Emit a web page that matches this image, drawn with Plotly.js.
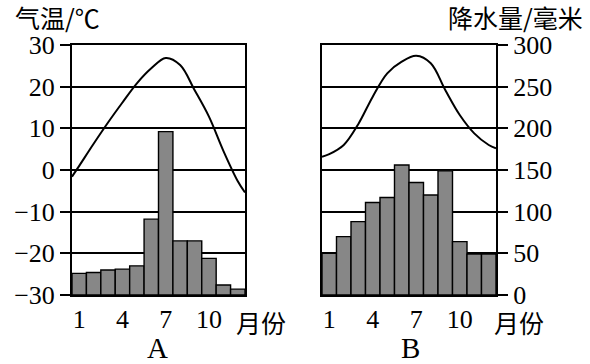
<!DOCTYPE html>
<html>
<head>
<meta charset="utf-8">
<script src="https://cdn.plot.ly/plotly-3.0.1.min.js"></script>
<style>html,body{margin:0;padding:0;background:#fff;}#chart{width:590px;height:364px;}</style>
</head>
<body>
<div id="chart"></div>
<script>
// Data
var months = [1,2,3,4,5,6,7,8,9,10,11,12];
var monthTicks = [1,4,7,10];
// temperature curve: read at the left plot edge, each month centre, and the right plot edge
var curveX = [0.5,1,2,3,4,5,6,7,8,9,10,11,12,12.5];
var tempA = [-1.6, 1.0, 6.3, 11.4, 16.2, 20.8, 24.4, 26.9, 25.2, 19.2, 12.8, 4.6, -2.7, -5.4];
var precA = [26, 27, 30, 31, 35, 91, 196, 65, 65, 44, 12, 7];
var tempB = [3.2, 3.8, 6.0, 11.0, 17.6, 23.2, 26.0, 27.4, 25.6, 19.2, 13.2, 8.8, 6.0, 5.2];
var precB = [50, 70, 88, 111, 117, 156, 135, 120, 149, 64, 49, 49];
var tempTicks = [-30,-20,-10,0,10,20,30];
var precTicks = [0,50,100,150,200,250,300];

var W = 590, H = 364;
function px(x){ return x / W; }
function py(y){ return 1 - y / H; }

var numFont = {family: 'Liberation Serif, serif', size: 26, color: '#000'};
var cjkFont = {family: 'Noto Sans CJK SC', size: 25, color: '#000'};

var barStyle = {color: '#878787', line: {color: '#000', width: 1.4}};
var lineStyle = {color: '#000', width: 2, shape: 'spline', smoothing: 1};

var traces = [
  {type: 'bar', x: months, y: precA, xaxis: 'x', yaxis: 'y2', marker: barStyle, hoverinfo: 'none'},
  {type: 'scatter', mode: 'lines', x: curveX, y: tempA, xaxis: 'x', yaxis: 'y', line: lineStyle, hoverinfo: 'none', cliponaxis: true},
  {type: 'bar', x: months, y: precB, xaxis: 'x2', yaxis: 'y4', marker: barStyle, hoverinfo: 'none'},
  {type: 'scatter', mode: 'lines', x: curveX, y: tempB, xaxis: 'x2', yaxis: 'y3', line: lineStyle, hoverinfo: 'none', cliponaxis: true}
];

var yDom = [py(295), py(45)];
var xAxisCommon = {
  range: [0.5, 12.5], tickmode: 'array', tickvals: monthTicks, ticktext: monthTicks.map(String),
  showline: true, mirror: true, linecolor: '#000', linewidth: 2,
  showgrid: false, zeroline: false, ticks: '', tickfont: numFont, fixedrange: true
};
var tempAxisCommon = {
  range: [-30, 30], tickmode: 'array', tickvals: tempTicks,
  showline: true, mirror: true, linecolor: '#000', linewidth: 2,
  showgrid: true, gridcolor: '#000', gridwidth: 1.8, zeroline: false,
  tickfont: numFont, fixedrange: true, domain: yDom
};

var layout = {
  width: W, height: H,
  margin: {l: 0, r: 0, t: 0, b: 0},
  paper_bgcolor: '#fff', plot_bgcolor: 'rgba(0,0,0,0)',
  showlegend: false, bargap: 0,
  xaxis: Object.assign({}, xAxisCommon, {domain: [px(72), px(245)], anchor: 'y'}),
  xaxis2: Object.assign({}, xAxisCommon, {domain: [px(322), px(496)], anchor: 'y3'}),
  yaxis: Object.assign({}, tempAxisCommon, {anchor: 'x', side: 'left', ticks: 'outside', ticklen: 10, tickwidth: 1.8, tickcolor: '#000'}),
  yaxis2: {overlaying: 'y', anchor: 'x', range: [0, 300], visible: false, fixedrange: true},
  yaxis3: Object.assign({}, tempAxisCommon, {anchor: 'x2', showticklabels: false, ticks: ''}),
  yaxis4: {overlaying: 'y3', anchor: 'x2', side: 'right', range: [0, 300], tickmode: 'array', tickvals: precTicks,
    ticks: 'outside', ticklen: 11, tickwidth: 1.8, tickcolor: '#000', showgrid: false, zeroline: false,
    showline: false, tickfont: numFont, fixedrange: true},
  annotations: [
    {text: '气温/℃', xref: 'paper', yref: 'paper', x: px(13), y: py(17), xanchor: 'left', yanchor: 'middle', showarrow: false, font: cjkFont},
    {text: '降水量/毫米', xref: 'paper', yref: 'paper', x: px(585), y: py(17), xanchor: 'right', yanchor: 'middle', showarrow: false, font: cjkFont},
    {text: '月份', xref: 'paper', yref: 'paper', x: px(261), y: py(322), xanchor: 'center', yanchor: 'middle', showarrow: false, font: cjkFont},
    {text: '月份', xref: 'paper', yref: 'paper', x: px(519), y: py(322), xanchor: 'center', yanchor: 'middle', showarrow: false, font: cjkFont},
    {text: 'A', xref: 'paper', yref: 'paper', x: px(157), y: py(348), xanchor: 'center', yanchor: 'middle', showarrow: false, font: {family: 'Liberation Serif, serif', size: 29, color: '#000'}},
    {text: 'B', xref: 'paper', yref: 'paper', x: px(410), y: py(348), xanchor: 'center', yanchor: 'middle', showarrow: false, font: {family: 'Liberation Serif, serif', size: 29, color: '#000'}}
  ]
};

Plotly.newPlot('chart', traces, layout, {displayModeBar: false, staticPlot: true});
</script>
</body>
</html>
